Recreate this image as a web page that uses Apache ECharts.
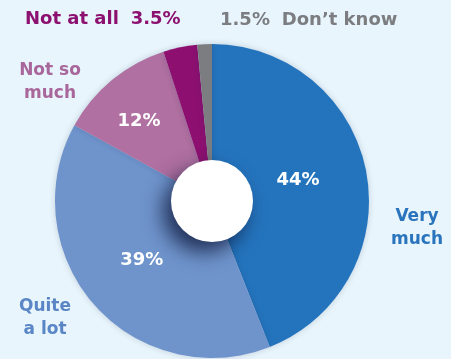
<!DOCTYPE html>
<html>
<head>
<meta charset="utf-8">
<script src="https://cdn.jsdelivr.net/npm/echarts@6/dist/echarts.min.js"></script>
<style>
  html, body { margin: 0; padding: 0; background: #e8f5fc; }
  #chart { width: 451px; height: 359px; }
</style>
</head>
<body>
<div id="chart"></div>
<script>
// Survey answers, clockwise from 12 o'clock
const categories = ['Very much', 'Quite a lot', 'Not so much', 'Not at all', 'Don\u2019t know'];
const shares = [44, 39, 12, 3.5, 1.5];
const sliceColors = ['#2474bd', '#6f94cc', '#b070a1', '#8d1071', '#7b7d81'];
const nameColors = ['#2a74bd', '#5a86c6', '#a8669b', '#8c1070', '#7b7d81'];
// Line breaks used for the outer category labels
const nameLines = ['Very\nmuch', 'Quite\na lot', 'Not so\nmuch', 'Not at all', 'Don\u2019t know'];

const FONT = '"DejaVu Sans", sans-serif';
const CX = 212, CY = 201, R = 157;

const pct = v => v + '%';

// Where each outer label sits (text layout only)
const outerSpots = [
  { x: 417, y: 228, align: 'center' },
  { x: 45, y: 318, align: 'center' },
  { x: 50, y: 82, align: 'center' },
  { x: 25, y: 19, align: 'left' },
  { x: 220, y: 20, align: 'left' }
];
// Nudges for the percentage labels inside the large slices
const innerNudge = [[6, -5], [-9, 5], [-21, -17]];

const chart = echarts.init(document.getElementById('chart'), null, { renderer: 'canvas' });

const sliceData = categories.map((name, i) => ({
  name,
  value: shares[i],
  itemStyle: { color: sliceColors[i] },
  label: { show: i < 3 }
}));

const nameData = categories.map((name, i) => {
  let text;
  if (i === 3) text = '{t|' + nameLines[i] + '}  {t|' + pct(shares[i]) + '}';
  else if (i === 4) text = '{t|' + pct(shares[i]) + '}  {t|' + nameLines[i] + '}';
  else text = nameLines[i];
  return {
    name,
    value: shares[i],
    itemStyle: { color: 'rgba(0,0,0,0)' },
    label: {
      formatter: text,
      color: nameColors[i],
      rich: { t: { color: nameColors[i], fontFamily: FONT, fontWeight: 'bold', fontSize: 18 } }
    }
  };
});

chart.setOption({
  backgroundColor: '#e8f5fc',
  animation: false,
  series: [
    {
      type: 'pie',
      center: [CX, CY],
      radius: [0, R],
      startAngle: 90,
      clockwise: true,
      avoidLabelOverlap: false,
      silent: true,
      itemStyle: {
        borderWidth: 0,
        shadowBlur: 6,
        shadowColor: 'rgba(20,40,80,0.18)'
      },
      label: {
        position: 'inside',
        formatter: p => pct(p.value),
        color: '#ffffff',
        fontFamily: FONT,
        fontWeight: 'bold',
        fontSize: 18
      },
      labelLine: { show: false },
      labelLayout: p => {
        const n = innerNudge[p.dataIndex];
        return n ? { dx: n[0], dy: n[1] } : {};
      },
      data: sliceData
    },
    {
      type: 'pie',
      center: [CX, CY],
      radius: [0, R],
      startAngle: 90,
      clockwise: true,
      avoidLabelOverlap: false,
      silent: true,
      z: 3,
      label: {
        position: 'outside',
        fontFamily: FONT,
        fontWeight: 'bold',
        fontSize: 17,
        lineHeight: 23
      },
      labelLine: { show: false },
      labelLayout: p => {
        const s = outerSpots[p.dataIndex];
        return { x: s.x, y: s.y, align: s.align, verticalAlign: 'middle' };
      },
      data: nameData
    },
    {
      // white hub in the middle
      type: 'pie',
      center: [CX, CY],
      radius: [0, 41],
      silent: true,
      z: 4,
      label: { show: false },
      labelLine: { show: false },
      itemStyle: {
        color: '#ffffff',
        shadowBlur: 20,
        shadowOffsetX: -8,
        shadowOffsetY: 10,
        shadowColor: 'rgba(15,25,60,0.8)'
      },
      data: [{ value: 1, name: 'hub' }]
    }
  ]
});
</script>
</body>
</html>
